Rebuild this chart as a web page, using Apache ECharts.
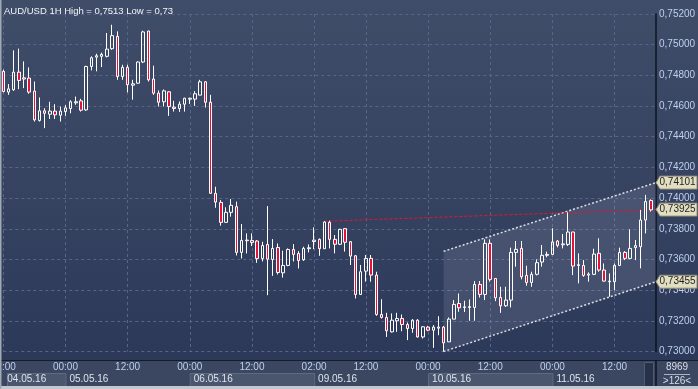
<!DOCTYPE html>
<html><head><meta charset="utf-8">
<script src="https://cdn.jsdelivr.net/npm/echarts@6/dist/echarts.min.js"></script>
<style>html,body{margin:0;padding:0;background:#2d3958}#c{width:698px;height:389px}</style>
</head><body><div id="c"></div>
<script>
const title = 'AUD/USD 1H High = 0,7513 Low = 0,73';
const opens = [0.74826,0.74691,0.74706,0.74821,0.74784,0.74782,0.74697,0.74506,0.74569,0.74547,
0.74567,0.74540,0.74564,0.74584,0.74621,0.74634,0.74575,0.74858,0.74919,0.74924,
0.74924,0.74974,0.75054,0.74793,0.74852,0.74736,0.74749,0.74887,0.75089,0.74776,
0.74684,0.74628,0.74693,0.74593,0.74584,0.74612,0.74645,0.74645,0.74671,0.74758,
0.74625,0.74031,0.73972,0.73842,0.73907,0.73944,0.73646,0.73722,0.73724,0.73720,
0.73606,0.73698,0.73600,0.73678,0.73513,0.73561,0.73665,0.73639,0.73598,0.73670,
0.73717,0.73731,0.73670,0.73842,0.73731,0.73699,0.73801,0.73716,0.73624,0.73372,
0.73524,0.73607,0.73498,0.73241,0.73222,0.73128,0.73200,0.73215,0.73176,0.73150,
0.73204,0.73095,0.73159,0.73139,0.73152,0.73159,0.73063,0.73211,0.73313,0.73287,
0.73287,0.73287,0.73437,0.73372,0.73705,0.73476,0.73352,0.73298,0.73335,0.73646,
0.73672,0.73496,0.73450,0.73503,0.73583,0.73627,0.73633,0.73720,0.73696,0.73698,
0.73779,0.73561,0.73561,0.73498,0.73503,0.73640,0.73531,0.73455,0.73455,0.73561,
0.73646,0.73607,0.73677,0.73683,0.73857,0.73984];
const closes = [0.74695,0.74712,0.74821,0.74767,0.74776,0.74691,0.74510,0.74569,0.74553,0.74567,
0.74543,0.74567,0.74588,0.74628,0.74628,0.74573,0.74858,0.74915,0.74928,0.74937,
0.74971,0.75059,0.74793,0.74852,0.74739,0.74745,0.74887,0.75083,0.74771,0.74684,
0.74625,0.74699,0.74597,0.74584,0.74612,0.74651,0.74651,0.74680,0.74758,0.74625,
0.74031,0.73974,0.73842,0.73907,0.73953,0.73646,0.73724,0.73726,0.73711,0.73606,
0.73691,0.73602,0.73672,0.73515,0.73561,0.73665,0.73633,0.73593,0.73672,0.73676,
0.73726,0.73670,0.73844,0.73731,0.73699,0.73796,0.73712,0.73622,0.73372,0.73520,
0.73607,0.73498,0.73241,0.73222,0.73135,0.73204,0.73215,0.73176,0.73150,0.73204,
0.73095,0.73161,0.73139,0.73159,0.73159,0.73056,0.73211,0.73307,0.73285,0.73291,
0.73293,0.73437,0.73372,0.73705,0.73470,0.73350,0.73298,0.73335,0.73646,0.73666,
0.73487,0.73450,0.73503,0.73579,0.73627,0.73633,0.73714,0.73692,0.73701,0.73779,
0.73557,0.73566,0.73496,0.73505,0.73635,0.73531,0.73459,0.73459,0.73561,0.73646,
0.73607,0.73672,0.73690,0.73857,0.73977,0.73923];
const lows = [0.74689,0.74673,0.74699,0.74710,0.74717,0.74680,0.74499,0.74499,0.74456,0.74516,
0.74516,0.74499,0.74536,0.74553,0.74608,0.74564,0.74569,0.74832,0.74826,0.74854,
0.74917,0.74967,0.74771,0.74771,0.74689,0.74641,0.74745,0.74880,0.74760,0.74673,
0.74597,0.74597,0.74536,0.74564,0.74562,0.74564,0.74614,0.74601,0.74671,0.74590,
0.74029,0.73937,0.73820,0.73840,0.73879,0.73626,0.73606,0.73639,0.73687,0.73578,
0.73587,0.73367,0.73493,0.73502,0.73482,0.73556,0.73587,0.73541,0.73591,0.73646,
0.73667,0.73624,0.73670,0.73672,0.73640,0.73694,0.73651,0.73564,0.73346,0.73368,
0.73455,0.73455,0.73233,0.73215,0.73095,0.73124,0.73128,0.73132,0.73074,0.73122,
0.73091,0.73085,0.73132,0.73024,0.73106,0.73000,0.73063,0.73211,0.73259,0.73257,
0.73200,0.73200,0.73352,0.73335,0.73455,0.73328,0.73252,0.73291,0.73287,0.73553,
0.73470,0.73429,0.73422,0.73496,0.73553,0.73614,0.73629,0.73679,0.73672,0.73688,
0.73498,0.73444,0.73487,0.73455,0.73498,0.73520,0.73455,0.73357,0.73400,0.73557,
0.73596,0.73601,0.73596,0.73542,0.73770,0.73912];
const highs = [0.74837,0.74743,0.74963,0.74974,0.74891,0.74852,0.74760,0.74656,0.74586,0.74628,
0.74612,0.74597,0.74606,0.74638,0.74662,0.74647,0.74863,0.74924,0.74941,0.74948,
0.75076,0.75130,0.75087,0.74869,0.74869,0.74771,0.74891,0.75091,0.75091,0.74863,
0.74702,0.74708,0.74695,0.74634,0.74630,0.74654,0.74654,0.74697,0.74771,0.74762,
0.74673,0.74074,0.73987,0.73940,0.73994,0.73977,0.73831,0.73770,0.73770,0.73726,
0.73715,0.73948,0.73733,0.73704,0.73657,0.73672,0.73700,0.73654,0.73683,0.73698,
0.73809,0.73737,0.73849,0.73853,0.73759,0.73800,0.73805,0.73720,0.73629,0.73564,
0.73629,0.73629,0.73520,0.73341,0.73252,0.73248,0.73252,0.73241,0.73189,0.73211,
0.73211,0.73165,0.73167,0.73172,0.73230,0.73167,0.73222,0.73335,0.73378,0.73331,
0.73339,0.73459,0.73459,0.73731,0.73731,0.73476,0.73422,0.73422,0.73677,0.73720,
0.73720,0.73559,0.73520,0.73601,0.73694,0.73651,0.73803,0.73727,0.73766,0.73907,
0.73779,0.73640,0.73596,0.73516,0.73670,0.73738,0.73574,0.73509,0.73574,0.73677,
0.73654,0.73796,0.73727,0.73923,0.74021,0.73992];
const tickIdx = [0,12,24,36,48,60,70,82,94,106,118];
const tickLabels = ['12:00','00:00','12:00','00:00','12:00','02:00','12:00','00:00','12:00','00:00','12:00'];
const dateIdx = [0,12,36,60,82,106];
const dateLabels = ['04.05.16','05.05.16','06.05.16','09.05.16','10.05.16','11.05.16'];
const yMin = 0.730, yMax = 0.752, yStep = 0.002;
const channelX = [85, 126];
const channelUpper = [0.73653, 0.74101];
const channelLower = [0.73000, 0.73455];
const levelX = [62, 126];
const levelY = [0.73849, 0.73925];
const markerValues = [0.74101, 0.73925, 0.73455];
const infoTop = '8969', infoBottom = '>126<';

const nSlots = opens.length + 1;
const cats = [];
for (let i = 0; i < nSlots; i++) cats.push(String(i));
const candleData = opens.map((o, i) => [o, closes[i], lows[i], highs[i]]);
candleData.push('-');

const FONT = '"Liberation Sans", Arial, sans-serif';
const gridCol = '#56658a';
const chart = echarts.init(document.getElementById('c'), null, {renderer: 'canvas'});
const fmt = v => v.toFixed(5).replace('.', ',');

const option = {
  animation: false,
  backgroundColor: new echarts.graphic.LinearGradient(0, 0, 0, 1, [
    {offset: 0, color: '#404d69'}, {offset: 1, color: '#2b3757'}]),
  grid: {left: 3.3, right: 42, top: 14, bottom: 37.5, containLabel: false, outerBoundsMode: 'none'},
  xAxis: [{
    type: 'category', data: cats, boundaryGap: false,
    axisLine: {show: false}, axisTick: {show: false},
    axisLabel: {
      interval: (i) => tickIdx.indexOf(i) >= 0,
      formatter: (v, i) => tickLabels[tickIdx.indexOf(Number(v))] || '',
      color: '#bcd0ee', fontSize: 10, fontFamily: FONT, margin: 11,
      hideOverlap: false
    },
    splitLine: {show: true, interval: (i) => tickIdx.indexOf(i) >= 0,
      lineStyle: {color: gridCol, type: [3, 3], width: 1}}
  }, {
    type: 'category', data: cats, boundaryGap: false, position: 'bottom', offset: 12,
    axisLine: {show: false}, axisTick: {show: false}, splitLine: {show: false},
    axisLabel: {
      interval: (i) => dateIdx.indexOf(i) >= 0,
      formatter: (v) => dateLabels[dateIdx.indexOf(Number(v))] || '',
      color: '#dde3ee', fontSize: 10, fontFamily: FONT, margin: 11, align: 'left',
      padding: [0, 0, 0, 4]
    }
  }],
  yAxis: {
    type: 'value', position: 'right', min: yMin, max: yMax, interval: yStep,
    axisLine: {show: true, lineStyle: {color: '#0e1320', width: 1.5}},
    axisTick: {show: false},
    axisLabel: {formatter: fmt, color: '#bcd0ee', fontSize: 10, fontFamily: FONT, margin: 3},
    splitLine: {show: true, lineStyle: {color: gridCol, type: [3, 3], width: 1}}
  },
  series: [{
    type: 'custom', z: 1, silent: true, clip: false,
    data: [[channelX[0], channelLower[0]]],
    encode: {x: 0, y: 1},
    renderItem: (params, api) => {
      const u0 = api.coord([channelX[0], channelUpper[0]]);
      const u1 = api.coord([channelX[1], channelUpper[1]]);
      const l0 = api.coord([channelX[0], channelLower[0]]);
      const l1 = api.coord([channelX[1], channelLower[1]]);
      const r0 = api.coord([levelX[0], levelY[0]]);
      const r1 = api.coord([levelX[1], levelY[1]]);
      return {type: 'group', children: [
        {type: 'polygon', shape: {points: [u0, u1, l1, l0]}, style: {fill: 'rgba(190,200,220,0.14)'}},
        {type: 'line', shape: {x1: u0[0], y1: u0[1], x2: u1[0], y2: u1[1]},
          style: {stroke: '#dcdee4', lineWidth: 1.5, lineDash: [2, 2]}},
        {type: 'line', shape: {x1: l0[0], y1: l0[1], x2: l1[0], y2: l1[1]},
          style: {stroke: '#dcdee4', lineWidth: 1.5, lineDash: [2, 2]}},
        {type: 'line', shape: {x1: r0[0], y1: r0[1], x2: r1[0], y2: r1[1]},
          style: {stroke: '#e8152f', lineWidth: 1, lineDash: [3, 2]}}
      ]};
    }
  }, {
    type: 'candlestick', z: 3, clip: false, barWidth: 3,
    data: candleData,
    itemStyle: {color: 'rgba(0,0,0,0)', color0: '#e3123a', borderColor: '#ffffff', borderColor0: '#ffffff', borderWidth: 1}
  }]
};
chart.setOption(option);

const els = [];
els.push({type: 'rect', z: -5, shape: {x: 0, y: 360, width: 698, height: 27}, style: {fill: '#3b4760'}});
els.push({type: 'line', z: 50, shape: {x1: 0, y1: 360.5, x2: 698, y2: 360.5}, style: {stroke: '#151b29', lineWidth: 1}});
const px = (i) => chart.convertToPixel({xAxisIndex: 0}, String(i));
for (let k = 0; k < dateIdx.length; k += 2) {
  const x0 = Math.max(7, px(dateIdx[k]));
  const x1 = k + 1 < dateIdx.length ? px(dateIdx[k + 1]) : 640;
  els.push({type: 'rect', z: -4, shape: {x: x0 + 0.5, y: 373.5, width: x1 - x0, height: 13},
    style: {fill: '#4a566e', stroke: '#5d6a82', lineWidth: 1}});
}
els.push({type: 'rect', z: -3, shape: {x: 644.5, y: 362.5, width: 9, height: 24}, style: {fill: '#27314a', stroke: '#4f5b73', lineWidth: 1}});
els.push({type: 'line', z: 50, shape: {x1: 656, y1: 360, x2: 656, y2: 387}, style: {stroke: '#0e1320', lineWidth: 1.5}});
els.push({type: 'text', z: 60, style: {text: infoTop, x: 677, y: 367, align: 'center', verticalAlign: 'middle', fill: '#d6dde8', font: '10px ' + FONT}});
els.push({type: 'line', z: 60, shape: {x1: 664, y1: 374.5, x2: 690, y2: 374.5}, style: {stroke: '#aab3c2', lineWidth: 1}});
els.push({type: 'text', z: 60, style: {text: infoBottom, x: 677, y: 381, align: 'center', verticalAlign: 'middle', fill: '#d6dde8', font: '10px ' + FONT}});
els.push({type: 'rect', z: 70, shape: {x: 0, y: 386, width: 698, height: 3}, style: {fill: '#c3c8d0'}});
els.push({type: 'rect', z: 70, shape: {x: 0, y: 0, width: 1.5, height: 389}, style: {fill: '#a2a9b4'}});
els.push({type: 'text', z: 60, style: {text: title, x: 4, y: 11, verticalAlign: 'middle', fill: '#f2f4f8', font: '9.5px ' + FONT}});
markerValues.forEach((v) => {
  const y = chart.convertToPixel({yAxisIndex: 0}, v);
  els.push({type: 'polygon', z: 80, shape: {points: [[656, y], [660, y - 6.5], [697, y - 6.5], [697, y + 6.5], [660, y + 6.5]]},
    style: {fill: '#e2dfc0', stroke: '#8d8a78', lineWidth: 1}});
  els.push({type: 'text', z: 81, style: {text: fmt(v), x: 659.5, y: y, verticalAlign: 'middle', fill: '#1c1e24', font: '10px ' + FONT}});
});
chart.setOption({graphic: els});
</script>
</body></html>
